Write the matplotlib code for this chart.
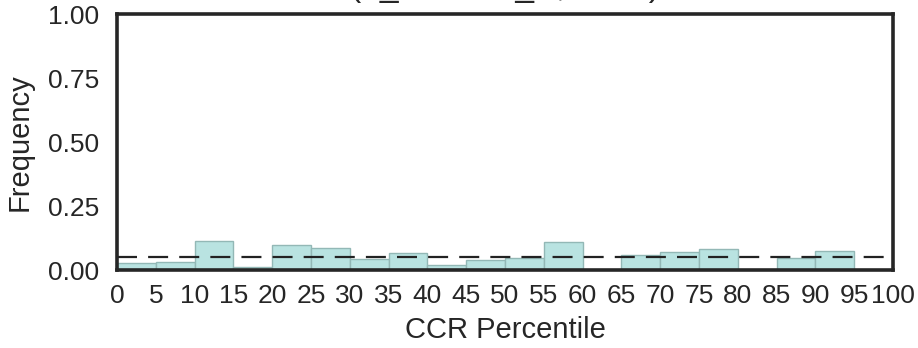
import numpy as np
import matplotlib
matplotlib.use("Agg")
import matplotlib.pyplot as plt
import seaborn as sns

# histogram of CCR percentiles, 5-wide bins
bin_edges = list(range(0, 105, 5))
freqs = [0.026, 0.032, 0.112, 0.010, 0.096, 0.085, 0.042, 0.065, 0.018, 0.039,
         0.046, 0.109, 0.0, 0.057, 0.070, 0.081, 0.0, 0.047, 0.073, 0.0]
expected = 0.05
yticks = [0.0, 0.25, 0.5, 0.75, 1.0]
title = "(n_variants_A, 1000)"

sns.set_style("white")
plt.rcParams['font.family'] = ['Liberation Sans', 'DejaVu Sans']

fig = plt.figure(figsize=(9.18, 3.48), dpi=100)
ax = fig.add_axes([117 / 918, 78 / 348, 776 / 918, 256 / 348])

lefts = bin_edges[:-1]
ax.bar(lefts, freqs, width=5, align="edge", color="#b9e3e1",
       edgecolor="#93b8b6", linewidth=1.0)
ax.axhline(expected, color="#222222", linestyle=(0, (9, 5)), linewidth=1.6)

ax.set_xlim(0, 100)
ax.set_ylim(0, 1)
ax.set_xticks(bin_edges)
ax.set_yticks(yticks)
ax.set_yticklabels(["%.2f" % v for v in yticks])
ax.tick_params(axis="both", labelsize=19, length=0, colors="#262626")
ax.tick_params(axis="x", pad=10)
ax.tick_params(axis="y", pad=13)
ax.set_xlabel("CCR Percentile", fontsize=21, color="#262626", labelpad=6)
ax.set_ylabel("Frequency", fontsize=21, color="#262626", labelpad=10)
ax.set_title(title, fontsize=24, color="#262626", pad=13)

for s in ax.spines.values():
    s.set_linewidth(2.6)
    s.set_color("#262626")

fig.savefig("out.png", dpi=100)
